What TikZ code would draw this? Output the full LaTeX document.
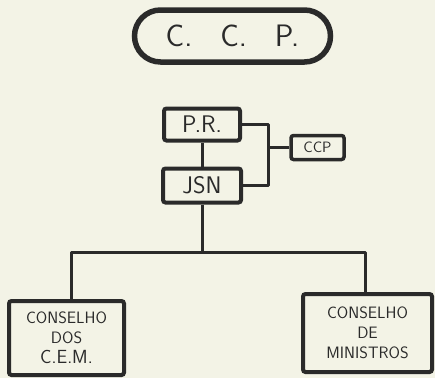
\documentclass[tikz,border=0pt]{standalone}
\usepackage{tikz}
\usetikzlibrary{positioning}
\definecolor{paper}{HTML}{F3F3E6}
\definecolor{ink}{HTML}{2A2A2A}
\tikzset{
  ttlbox/.style={draw=ink, line width=5.5pt, rounded corners=26pt, minimum width=196pt, minimum height=52pt, inner sep=0pt, text=ink, font=\sffamily\fontsize{31}{31}\selectfont},
  orgbox/.style={draw=ink, line width=4pt, rounded corners=2.5pt, inner sep=0pt, text=ink, font=\sffamily\fontsize{24}{24}\selectfont},
  smallbox/.style={orgbox, line width=3.5pt, font=\sffamily\fontsize{15}{15}\selectfont},
  councilbox/.style={orgbox, line width=4pt, align=center, font=\sffamily\fontsize{16.5}{20}\selectfont},
  link/.style={draw=ink, line width=3pt, line join=round},
}

\begin{document}
\begin{tikzpicture}[x=1pt,y=-1pt]
  \fill[paper] (0,0) rectangle (435,378);
  \useasboundingbox (0,0) rectangle (435,378);
  % heading
  \node[ttlbox] (ccptitle) at (232.5,36) {C.\hspace{0.9em}C.\hspace{0.9em}P.};
  % top of the chart
  \node[orgbox, minimum width=76pt, minimum height=32pt] (pr) at (202,124.5) {P.R.};
  \node[orgbox, minimum width=78pt, minimum height=34pt] (jsn) at (202,185.5) {JSN};
  \node[smallbox, minimum width=53pt, minimum height=24pt] (ccp) at (317.5,147.5) {CCP};
  \coordinate (brk) at (268,150);
  \draw[link] (pr.east) -| (brk) |- (jsn.east);
  \draw[link] (ccp.west) -- (ccp.west -| brk);
  \draw[link] (pr.south) -- (jsn.north);
  % councils
  \node[councilbox, minimum width=115pt, minimum height=74pt] (cem) at (66.5,338) {CONSELHO\\DOS\\{\fontsize{19}{19}\selectfont C.E.M.}};
  \node[councilbox, minimum width=129pt, minimum height=78pt] (cdm) at (367.5,333) {CONSELHO\\DE\\MINISTROS};
  \coordinate (busl) at (71,252);
  \coordinate (busr) at (365,252);
  \draw[link] (cem.north -| busl) |- (busr) -- (busr |- cdm.north);
  \draw[link] (jsn.south) -- (jsn.south |- busl);
\end{tikzpicture}
\end{document}
